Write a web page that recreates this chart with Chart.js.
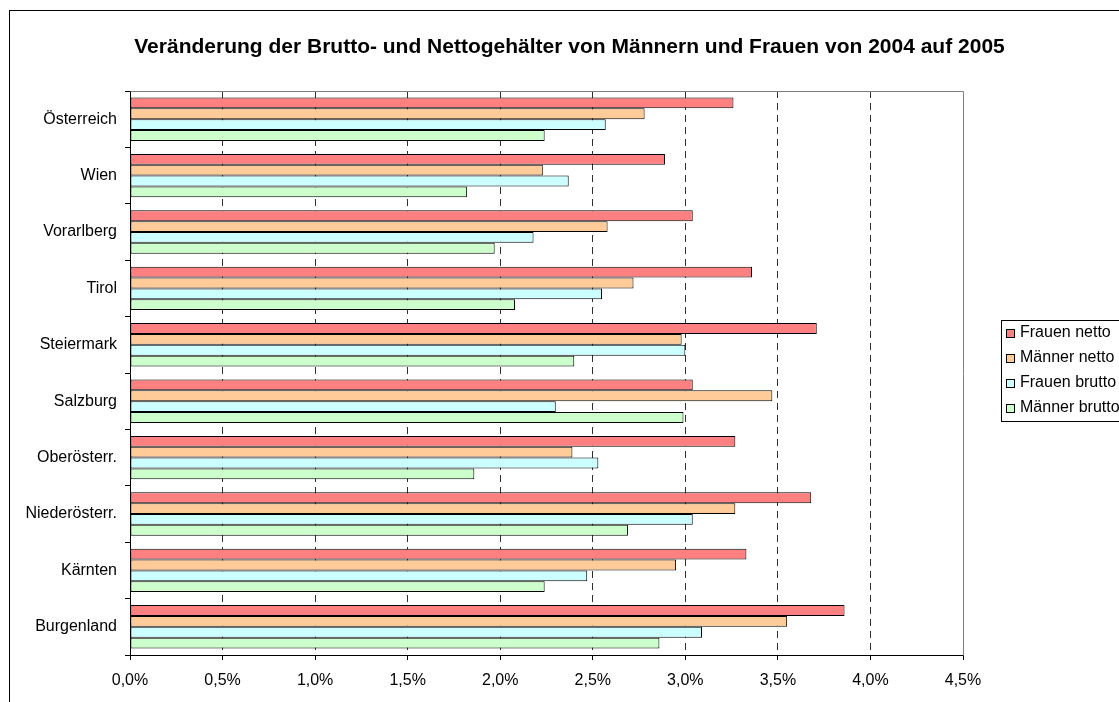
<!DOCTYPE html>
<html>
<head>
<meta charset="utf-8">
<script src="https://cdn.jsdelivr.net/npm/chart.js@4.4.1/dist/chart.umd.min.js"></script>
<style>
  html, body { margin: 0; padding: 0; background: #fff; overflow: hidden; }
  #wrap { width: 1119px; height: 702px; }
</style>
</head>
<body>
<div id="wrap"><canvas id="chart" width="1119" height="702"></canvas></div>
<script>
// data (percent change 2004 -> 2005)
const regions = ['Österreich', 'Wien', 'Vorarlberg', 'Tirol', 'Steiermark', 'Salzburg', 'Oberösterr.', 'Niederösterr.', 'Kärnten', 'Burgenland'];
const frauenNetto   = [3.26, 2.89, 3.04, 3.36, 3.71, 3.04, 3.27, 3.68, 3.33, 3.86];
const maennerNetto  = [2.78, 2.23, 2.58, 2.72, 2.98, 3.47, 2.39, 3.27, 2.95, 3.55];
const frauenBrutto  = [2.57, 2.37, 2.18, 2.55, 3.00, 2.30, 2.53, 3.04, 2.47, 3.09];
const maennerBrutto = [2.24, 1.82, 1.97, 2.08, 2.40, 2.99, 1.86, 2.69, 2.24, 2.86];
const seriesNames = ['Frauen netto', 'Männer netto', 'Frauen brutto', 'Männer brutto'];
const seriesColors = ['#ff8080', '#ffcc99', '#ccffff', '#ccffcc'];
const xTicks = [0, 0.5, 1, 1.5, 2, 2.5, 3, 3.5, 4, 4.5];
const chartTitle = 'Veränderung der Brutto- und Nettogehälter von Männern und Frauen von 2004 auf 2005';

const FONT = '"Liberation Sans", Arial, sans-serif';
const seriesData = [frauenNetto, maennerNetto, frauenBrutto, maennerBrutto];

// outer frame + title
const framePlugin = {
  id: 'frame',
  beforeDraw(chart) {
    const c = chart.ctx;
    c.save();
    c.fillStyle = '#fff';
    c.fillRect(0, 0, chart.width, chart.height);
    c.strokeStyle = '#000';
    c.lineWidth = 1;
    c.strokeRect(9.5, 10.5, 1300, 900);
    c.fillStyle = '#000';
    c.font = 'bold 21px ' + FONT;
    c.textAlign = 'center';
    c.textBaseline = 'middle';
    c.fillText(chartTitle, 569.5, 47);
    c.restore();
  },
  beforeDatasetsDraw(chart) {
    // grey top/right edge of the plot area
    const a = chart.chartArea;
    const c = chart.ctx;
    c.save();
    c.strokeStyle = '#808080';
    c.lineWidth = 1;
    c.beginPath();
    c.moveTo(Math.round(a.left) + 0.5, Math.round(a.top) + 0.5);
    c.lineTo(Math.round(a.right) + 0.5, Math.round(a.top) + 0.5);
    c.lineTo(Math.round(a.right) + 0.5, Math.round(a.bottom) + 0.5);
    c.stroke();
    c.restore();
  },
  afterDraw(chart) {
    // legend box on the right, cut off by the edge like the original
    const c = chart.ctx;
    c.save();
    c.strokeStyle = '#000';
    c.lineWidth = 1;
    c.strokeRect(1001.5, 320.5, 200, 101);
    c.font = '16px ' + FONT;
    c.textBaseline = 'middle';
    seriesNames.forEach((name, i) => {
      const y = 333 + i * 25;
      c.fillStyle = seriesColors[i];
      c.fillRect(1006, y - 4, 8, 8);
      c.strokeRect(1006.5, y - 3.5, 8, 8);
      c.fillStyle = '#000';
      c.fillText(name, 1020, y);
    });
    c.restore();
  }
};

new Chart(document.getElementById('chart'), {
  type: 'bar',
  data: {
    labels: regions,
    datasets: seriesNames.map((name, i) => ({
      label: name,
      data: seriesData[i],
      backgroundColor: seriesColors[i],
      borderColor: '#000',
      borderWidth: 1,
      borderSkipped: false,
      barPercentage: 1,
      categoryPercentage: 0.77
    }))
  },
  options: {
    indexAxis: 'y',
    responsive: false,
    animation: false,
    devicePixelRatio: 1,
    layout: { padding: { top: 91, right: 156, left: 0, bottom: 0 } },
    plugins: {
      legend: { display: false },
      title: { display: false },
      tooltip: { enabled: false }
    },
    scales: {
      x: {
        type: 'linear',
        min: 0,
        max: 4.5,
        afterBuildTicks: s => { s.ticks = xTicks.map(v => ({ value: v })); },
        afterFit: s => { s.height = 47; },
        ticks: {
          color: '#000',
          font: { family: FONT, size: 16 },
          padding: 11,
          maxRotation: 0,
          callback: v => v.toFixed(1).replace('.', ',') + '%'
        },
        grid: {
          color: ctx => (ctx.index === 0 || ctx.index === xTicks.length - 1) ? 'rgba(0,0,0,0)' : '#303030',
          tickColor: '#000',
          tickBorderDash: [],
          tickLength: 5,
          lineWidth: 1
        },
        border: { color: '#000', width: 1, dash: [7, 5] }
      },
      y: {
        type: 'category',
        offset: true,
        afterFit: s => { s.width = 130; },
        ticks: {
          color: '#000',
          font: { family: FONT, size: 16 },
          padding: 8
        },
        grid: {
          offset: true,
          drawOnChartArea: false,
          tickLength: 5,
          tickColor: '#000'
        },
        border: { color: '#000', width: 1 }
      }
    }
  },
  plugins: [framePlugin]
});
</script>
</body>
</html>
